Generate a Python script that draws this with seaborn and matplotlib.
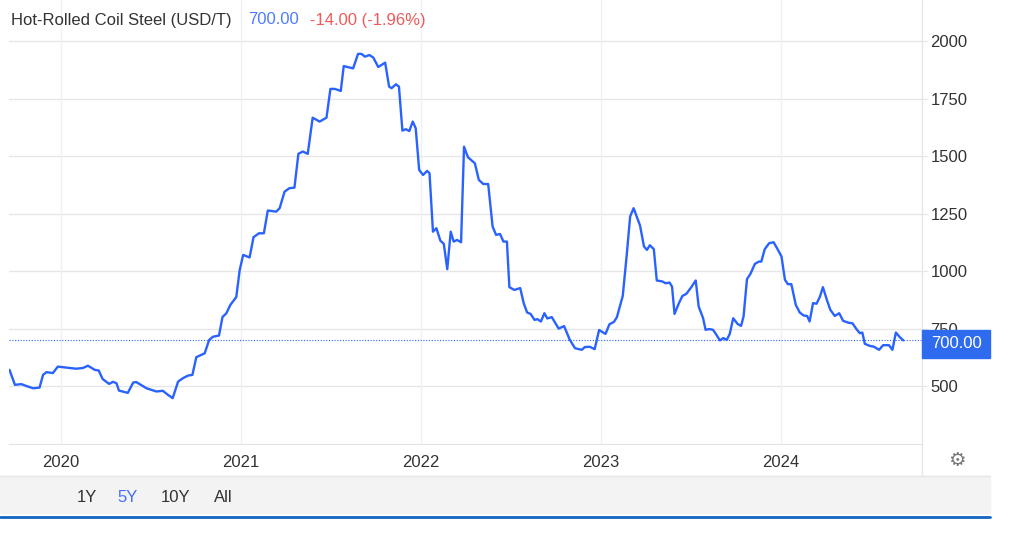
import pandas as pd
import matplotlib.pyplot as plt
from matplotlib.lines import Line2D
from matplotlib.patches import Rectangle
import seaborn as sns

# Hot-rolled coil steel, USD/T
dates = [
    "2019-09-19", "2019-09-30", "2019-10-13", "2019-10-23", "2019-11-06", "2019-11-19",
    "2019-11-26", "2019-12-03", "2019-12-16", "2019-12-26", "2020-01-12", "2020-02-01",
    "2020-02-15", "2020-02-25", "2020-03-10", "2020-03-18", "2020-03-26", "2020-04-08",
    "2020-04-16", "2020-04-23", "2020-04-28", "2020-05-16", "2020-05-27", "2020-06-02",
    "2020-06-23", "2020-07-13", "2020-07-26", "2020-08-05", "2020-08-15", "2020-08-26",
    "2020-09-05", "2020-09-15", "2020-09-24", "2020-10-02", "2020-10-19", "2020-10-28",
    "2020-11-05", "2020-11-17", "2020-11-24", "2020-12-02", "2020-12-10", "2020-12-22",
    "2020-12-29", "2021-01-05", "2021-01-18", "2021-01-26", "2021-02-06", "2021-02-16",
    "2021-02-24", "2021-03-13", "2021-03-20", "2021-03-30", "2021-04-09", "2021-04-19",
    "2021-04-27", "2021-05-06", "2021-05-16", "2021-05-26", "2021-06-09", "2021-06-23",
    "2021-07-01", "2021-07-10", "2021-07-22", "2021-07-28", "2021-08-16", "2021-08-26",
    "2021-09-02", "2021-09-09", "2021-09-18", "2021-09-26", "2021-10-06", "2021-10-20",
    "2021-10-28", "2021-11-02", "2021-11-11", "2021-11-17", "2021-11-24", "2021-12-01",
    "2021-12-08", "2021-12-15", "2021-12-21", "2021-12-28", "2022-01-05", "2022-01-13",
    "2022-01-18", "2022-01-25", "2022-02-01", "2022-02-09", "2022-02-16", "2022-02-23",
    "2022-03-02", "2022-03-08", "2022-03-15", "2022-03-23", "2022-03-29", "2022-04-06",
    "2022-04-20", "2022-04-28", "2022-05-07", "2022-05-17", "2022-05-26", "2022-06-02",
    "2022-06-10", "2022-06-17", "2022-06-24", "2022-06-29", "2022-07-09", "2022-07-21",
    "2022-07-28", "2022-08-04", "2022-08-11", "2022-08-19", "2022-08-25", "2022-09-01",
    "2022-09-08", "2022-09-14", "2022-09-23", "2022-10-07", "2022-10-18", "2022-10-29",
    "2022-11-09", "2022-11-23", "2022-11-29", "2022-12-09", "2022-12-19", "2022-12-28",
    "2023-01-10", "2023-01-18", "2023-01-27", "2023-02-02", "2023-02-09", "2023-02-14",
    "2023-02-22", "2023-03-01", "2023-03-08", "2023-03-21", "2023-03-29", "2023-04-04",
    "2023-04-10", "2023-04-18", "2023-04-24", "2023-05-05", "2023-05-12", "2023-05-20",
    "2023-05-25", "2023-05-30", "2023-06-08", "2023-06-15", "2023-06-23", "2023-07-03",
    "2023-07-12", "2023-07-18", "2023-07-27", "2023-08-01", "2023-08-09", "2023-08-16",
    "2023-08-23", "2023-08-30", "2023-09-06", "2023-09-13", "2023-09-19", "2023-09-26",
    "2023-10-05", "2023-10-12", "2023-10-17", "2023-10-24", "2023-10-31", "2023-11-09",
    "2023-11-17", "2023-11-22", "2023-11-29", "2023-12-08", "2023-12-17", "2023-12-24",
    "2024-01-02", "2024-01-09", "2024-01-15", "2024-01-22", "2024-01-31", "2024-02-08",
    "2024-02-16", "2024-02-23", "2024-02-28", "2024-03-06", "2024-03-13", "2024-03-20",
    "2024-03-26", "2024-04-03", "2024-04-10", "2024-04-19", "2024-04-28", "2024-05-06",
    "2024-05-16", "2024-05-25", "2024-06-02", "2024-06-09", "2024-06-14", "2024-06-19",
    "2024-06-29", "2024-07-07", "2024-07-18", "2024-07-26", "2024-08-07", "2024-08-14",
    "2024-08-21", "2024-08-29", "2024-09-05",
]
prices = [
    572, 507, 510, 502, 492, 495,
    550, 562, 558, 586, 582, 577,
    580, 590, 572, 569, 532, 511,
    520, 514, 482, 472, 517, 519,
    492, 478, 481, 464, 449, 521,
    536, 547, 550, 627, 644, 702,
    716, 721, 801, 818, 854, 888,
    1006, 1071, 1060, 1148, 1165, 1165,
    1264, 1259, 1274, 1346, 1361, 1363,
    1510, 1520, 1510, 1667, 1650, 1667,
    1792, 1792, 1783, 1891, 1881, 1944,
    1944, 1932, 1939, 1928, 1887, 1906,
    1802, 1795, 1812, 1802, 1611, 1617,
    1609, 1650, 1621, 1440, 1418, 1436,
    1426, 1172, 1187, 1133, 1119, 1009,
    1172, 1129, 1136, 1126, 1541, 1495,
    1469, 1397, 1379, 1379, 1194, 1158,
    1162, 1129, 1129, 931, 919, 927,
    862, 821, 815, 789, 792, 782,
    818, 795, 801, 751, 762, 705,
    666, 659, 671, 672, 662, 745,
    728, 770, 780, 800, 854, 893,
    1070, 1238, 1274, 1199, 1108, 1093,
    1113, 1096, 960, 956, 948, 951,
    933, 815, 862, 893, 902, 931,
    960, 847, 796, 746, 749, 746,
    724, 700, 710, 702, 728, 796,
    771, 763, 803, 966, 989, 1032,
    1042, 1042, 1096, 1122, 1126, 1100,
    1064, 963, 944, 944, 854, 821,
    808, 806, 782, 862, 859, 890,
    931, 876, 833, 806, 818, 785,
    777, 774, 749, 731, 734, 685,
    676, 673, 659, 679, 679, 659,
    734, 714, 700,
]

year_ticks = ["2020-01-01", "2021-01-01", "2022-01-01", "2023-01-01", "2024-01-01"]
year_labels = ["2020", "2021", "2022", "2023", "2024"]
y_ticks = [500, 750, 1000, 1250, 1500, 1750, 2000]
range_buttons = ["1Y", "5Y", "10Y", "All"]
last_price = 700.00
change = -14.00
change_pct = -1.96

df = pd.DataFrame({"date": pd.to_datetime(dates), "price": prices})

sns.set_style("white")
plt.rcParams["font.family"] = ["Liberation Sans", "DejaVu Sans"]

W, H = 1010, 540
fig = plt.figure(figsize=(W / 100, H / 100), dpi=100)
ax = fig.add_axes([9 / W, 1 - 444 / H, 913 / W, 444 / H])

LINE = "#2962ff"
sns.lineplot(data=df, x="date", y="price", ax=ax, color=LINE, linewidth=1.7,
             estimator=None, zorder=3)
ax.axhline(last_price, color=LINE, linestyle=(0, (1, 1.5)), linewidth=0.8, zorder=2)

ax.set_xlim(pd.Timestamp("2019-09-18"), pd.Timestamp("2024-10-13"))
ax.set_ylim(250, 2178)
ax.set_xlabel("")
ax.set_ylabel("")

# grid
for y in y_ticks:
    ax.axhline(y, color="#e6e6e6", linewidth=1, zorder=1)
for d in year_ticks:
    ax.axvline(pd.Timestamp(d), color="#edf1f5", linewidth=1, zorder=1)

for side in ["left", "top"]:
    ax.spines[side].set_visible(False)
ax.spines["bottom"].set_color("#e3e3e3")
ax.spines["right"].set_visible(False)

ax.yaxis.tick_right()
ax.set_yticks(y_ticks)
ax.set_yticklabels([str(v) for v in y_ticks])
ax.tick_params(axis="y", length=4, color="#e6e6e6", pad=2, labelsize=12, labelcolor="#333333")
ax.set_xticks(pd.to_datetime(year_ticks))
ax.set_xticklabels(year_labels)
ax.tick_params(axis="x", length=0, pad=8, labelsize=12, labelcolor="#333333")

# right border line running down into the label row
fig.add_artist(Line2D([922 / W, 922 / W], [1, 1 - 476 / H], color="#e6e6e6", linewidth=1))
fig.text(957 / W, 1 - 461 / H, "\u2699", fontsize=14, color="#777777",
         ha="center", va="center", family="DejaVu Sans")

# last value tag
fig.add_artist(Rectangle((922 / W, 1 - 358 / H), 68 / W, 28 / H, color="#2f6bef",
                         zorder=5, transform=fig.transFigure))
fig.text(956 / W, 1 - 344 / H, f"{last_price:.2f}", color="white", fontsize=12,
         ha="center", va="center", zorder=6)

# header
fig.text(11 / W, 1 - 20 / H, "Hot-Rolled Coil Steel (USD/T)", color="#333333",
         fontsize=12, va="center")
fig.text(248 / W, 1 - 20 / H, f"{last_price:.2f}", color="#4d7cfe", fontsize=12, va="center")
fig.text(310 / W, 1 - 20 / H, f"{change:.2f} ({change_pct:.2f}%)", color="#f05a5a",
         fontsize=12, va="center")

# bottom toolbar
fig.add_artist(Rectangle((0, 1 - 513 / H), 990 / W, 37 / H, color="#f3f3f3",
                         transform=fig.transFigure, zorder=0))
fig.add_artist(Line2D([0, 990 / W], [1 - 476 / H, 1 - 476 / H], color="#e6e6e6", linewidth=1))
fig.add_artist(Line2D([0, 990 / W], [1 - 517 / H, 1 - 517 / H], color="#1565c0", linewidth=2))
button_x = [87, 128, 176, 223]
for label, bx in zip(range_buttons, button_x):
    fig.text(bx / W, 1 - 498 / H, label, fontsize=12, ha="center", va="center",
             color="#4a6cf7" if label == "5Y" else "#333333")

fig.savefig("out.png", dpi=100)
